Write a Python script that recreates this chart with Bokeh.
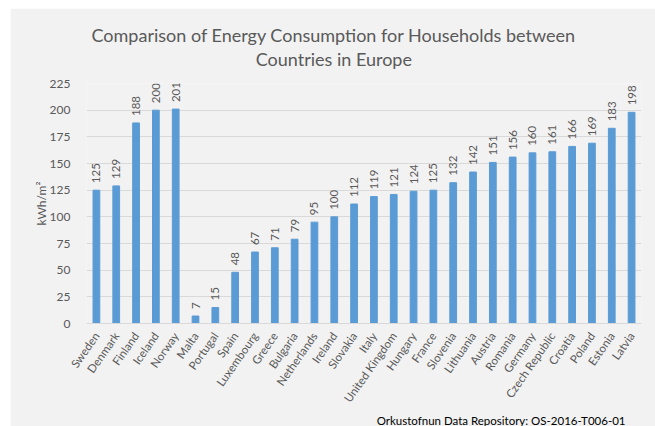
import math
from bokeh.plotting import figure
from bokeh.models import ColumnDataSource, Range1d, FactorRange, Title, LabelSet
from bokeh.core.properties import value
from bokeh.embed import file_html
from bokeh.resources import INLINE

countries = ["Sweden", "Denmark", "Finland", "Iceland", "Norway", "Malta", "Portugal",
             "Spain", "Luxembourg", "Greece", "Bulgaria", "Netherlands", "Ireland",
             "Slovakia", "Italy", "United Kingdom", "Hungary", "France", "Slovenia",
             "Lithuania", "Austria", "Romania", "Germany", "Czech Republic", "Croatia",
             "Poland", "Estonia", "Latvia"]
values = [125, 129, 188, 200, 201, 7, 15, 48, 67, 71, 79, 95, 100, 112, 119, 121,
          124, 125, 132, 142, 151, 156, 160, 161, 166, 169, 183, 198]
y_ticks = [0, 25, 50, 75, 100, 125, 150, 175, 200, 225]
title_lines = ["Comparison of Energy Consumption for Households between",
               "Countries in Europe"]
source_text = "Orkustofnun Data Repository: OS-2016-T006-01"

FONT = "Lato"
GREY = "#595959"
BG = "#f2f2f2"

src = ColumnDataSource(dict(x=countries, y=values, lbl=[str(v) for v in values]))

p = figure(width=645, height=418, x_range=FactorRange(*countries), y_range=Range1d(0, 225),
           output_backend="svg", toolbar_location=None,
           min_border_left=76, min_border_right=14, min_border_top=75, min_border_bottom=103,
           styles={"margin-left": "10px", "margin-top": "8px"})
p.background_fill_color = BG
p.border_fill_color = BG
p.outline_line_color = None

p.title.text = "\n".join(title_lines)
p.title.align = "left"
p.title.offset = 5
p.title.text_align = "center"
p.title.text_line_height = 1.1
p.title.standoff = 26
p.title.text_font = FONT
p.title.text_font_size = "18px"
p.title.text_font_style = "normal"
p.title.text_color = GREY

p.vbar(x="x", top="y", width=0.34, source=src, color="#5b9bd5")

labels = LabelSet(x="x", y="y", text="lbl", source=src, angle=math.pi / 2,
                  text_align="left", text_baseline="middle", y_offset=7,
                  text_font=value(FONT), text_font_size=value("11.5px"), text_color=GREY)
p.add_layout(labels)

p.add_layout(Title(text=source_text, align="right", offset=16, standoff=0,
                   text_font=FONT, text_font_size="11.5px", text_font_style="normal",
                   text_color="#000000"), "below")

p.yaxis.ticker = y_ticks
p.yaxis.axis_line_color = None
p.yaxis.major_tick_line_color = None
p.yaxis.minor_tick_line_color = None
p.yaxis.major_label_text_font = FONT
p.yaxis.major_label_text_font_size = "12px"
p.yaxis.major_label_text_color = GREY
p.yaxis.major_label_standoff = 10
p.yaxis.axis_label = "kWh/m\u00b2"
p.yaxis.axis_label_text_font = FONT
p.yaxis.axis_label_text_font_size = "12px"
p.yaxis.axis_label_text_font_style = "normal"
p.yaxis.axis_label_text_color = GREY
p.yaxis.axis_label_standoff = -2

p.xaxis.axis_line_color = "#d9d9d9"
p.xaxis.major_tick_line_color = None
p.xaxis.minor_tick_line_color = None
p.xaxis.major_label_orientation = 55 * math.pi / 180
p.xaxis.major_label_text_font = FONT
p.xaxis.major_label_text_font_size = "11.5px"
p.xaxis.major_label_text_color = GREY
p.xaxis.major_label_standoff = 4

p.xgrid.grid_line_color = None
p.ygrid.grid_line_color = "#d9d9d9"

open("out.html", "w").write(file_html(p, INLINE))
